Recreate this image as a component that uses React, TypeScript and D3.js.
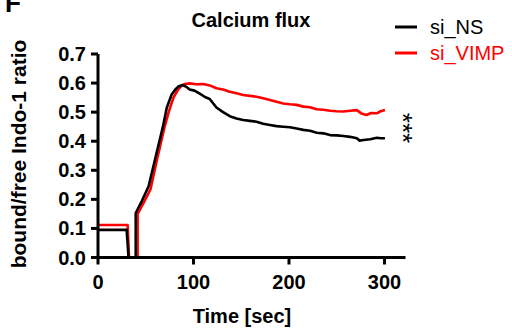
import React from "react";
import * as d3 from "d3";

const nsTime = [0, 30, 32, 39.5, 39.5, 46, 53, 61, 68, 72, 77, 81, 84, 88.6, 92, 96, 101, 107, 112, 117, 124, 131, 138, 145, 152, 159, 166, 173, 180, 187, 194, 201, 208, 215, 222, 229, 236, 243, 250, 257, 264, 271, 274, 278, 285, 292, 296, 300.5];
const nsVal = [0.095, 0.095, 0, 0, 0.153, 0.195, 0.245, 0.355, 0.45, 0.515, 0.56, 0.578, 0.588, 0.593, 0.588, 0.578, 0.574, 0.563, 0.552, 0.545, 0.516, 0.5, 0.486, 0.478, 0.473, 0.47, 0.467, 0.46, 0.456, 0.452, 0.45, 0.448, 0.444, 0.439, 0.436, 0.429, 0.427, 0.421, 0.42, 0.418, 0.415, 0.41, 0.402, 0.404, 0.407, 0.412, 0.41, 0.41];

const vimpTime = [0, 31, 32.5, 41.5, 41.5, 48, 55, 62, 69, 74, 79, 84, 88, 91, 96, 103, 110, 117, 124, 131, 138, 145, 152, 159, 166, 173, 180, 187, 194, 201, 208, 215, 222, 229, 236, 243, 250, 257, 264, 271, 276, 281, 286, 292, 296, 300.5];
const vimpVal = [0.112, 0.112, 0, 0, 0.15, 0.19, 0.235, 0.34, 0.44, 0.5, 0.55, 0.578, 0.592, 0.597, 0.599, 0.596, 0.597, 0.592, 0.582, 0.578, 0.57, 0.565, 0.559, 0.556, 0.553, 0.548, 0.542, 0.536, 0.53, 0.527, 0.525, 0.519, 0.517, 0.51, 0.508, 0.505, 0.503, 0.502, 0.505, 0.507, 0.495, 0.49, 0.497, 0.496, 0.503, 0.507];

const xTicks = [0, 100, 200, 300];
const yTicks = [0, 0.1, 0.2, 0.3, 0.4, 0.5, 0.6, 0.7];
const seriesNames = ["si_NS", "si_VIMP"];
const seriesColors = ["#000000", "#ff0000"];

const FONT = "'Liberation Sans', Arial, sans-serif";

export default function App() {
  const x = d3.scaleLinear().domain([0, 322]).range([98, 405.5]);
  const y = d3.scaleLinear().domain([0, 0.7]).range([257.5, 54]);
  const line = d3
    .line<[number, number]>()
    .x((d) => x(d[0]))
    .y((d) => y(d[1]))
    .curve(d3.curveLinear);
  const ns = nsTime.map((t, i) => [t, nsVal[i]] as [number, number]);
  const vimp = vimpTime.map((t, i) => [t, vimpVal[i]] as [number, number]);

  return (
    <svg
      width={512}
      height={331}
      style={{ position: "absolute", left: 0, top: 0, background: "#fff" }}
      fontFamily={FONT}
    >
      <text x={5} y={12} fontSize={26} fontWeight="bold">F</text>
      <text x={251} y={27} fontSize={20} fontWeight="bold" textAnchor="middle">
        Calcium flux
      </text>

      {/* data */}
      <path d={line(vimp) || ""} fill="none" stroke={seriesColors[1]} strokeWidth={2.6} strokeLinejoin="round" />
      <path d={line(ns) || ""} fill="none" stroke={seriesColors[0]} strokeWidth={2.6} strokeLinejoin="round" />

      {/* axes */}
      <g stroke="#000" strokeWidth={3}>
        <line x1={x(0)} x2={x(0)} y1={y(0) + 1.5} y2={y(0.7)} />
        <line x1={x(0) - 1.5} x2={x(322)} y1={y(0)} y2={y(0)} />
        {yTicks.map((t) => (
          <line key={"yt" + t} x1={x(0) - 7} x2={x(0)} y1={y(t)} y2={y(t)} />
        ))}
        {xTicks.map((t) => (
          <line key={"xt" + t} x1={x(t)} x2={x(t)} y1={y(0)} y2={y(0) + 7} />
        ))}
      </g>
      <g fontSize={20} fontWeight="bold">
        {yTicks.map((t) => (
          <text key={"yl" + t} x={x(0) - 12} y={y(t) + 7} textAnchor="end">
            {d3.format(".1f")(t)}
          </text>
        ))}
        {xTicks.map((t) => (
          <text key={"xl" + t} x={x(t)} y={289} textAnchor="middle">
            {t}
          </text>
        ))}
      </g>
      <text x={242} y={323} fontSize={20} fontWeight="bold" textAnchor="middle">
        Time [sec]
      </text>
      <text
        transform="translate(26,154) rotate(-90)"
        fontSize={21}
        fontWeight="bold"
        textAnchor="middle"
      >
        bound/free Indo-1 ratio
      </text>

      {/* significance */}
      <text transform="translate(394,128) rotate(90)" fontSize={26} textAnchor="middle">
        ***
      </text>

      {/* legend */}
      {seriesNames.map((n, i) => (
        <g key={n}>
          <line x1={395} x2={417} y1={27 + i * 26} y2={27 + i * 26} stroke={seriesColors[i]} strokeWidth={3} />
          <text x={430} y={34 + i * 26} fontSize={20} fill={seriesColors[i]}>
            {n}
          </text>
        </g>
      ))}
    </svg>
  );
}
